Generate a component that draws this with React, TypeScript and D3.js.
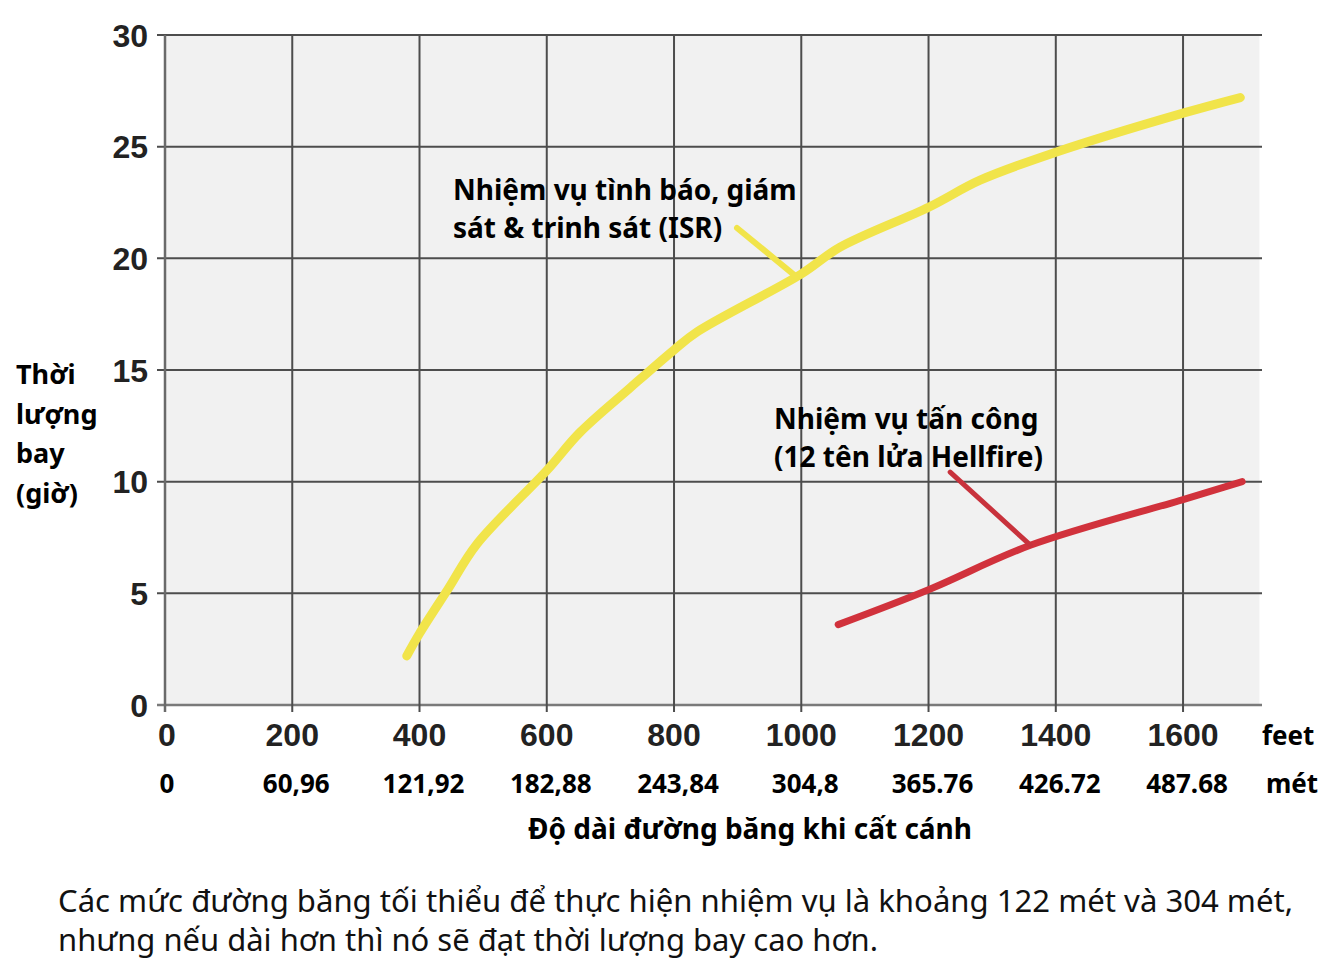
import React from "react";
import * as d3 from "d3";

const feetTicks = [0, 200, 400, 600, 800, 1000, 1200, 1400, 1600];
const meterLabels = ["0", "60,96", "121,92", "182,88", "243,84", "304,8", "365.76", "426.72", "487.68"];
const hourTicks = [0, 5, 10, 15, 20, 25, 30];

const isrFeet = [380, 400, 445, 490, 600, 652, 731, 800, 836, 1000, 1061, 1201, 1281, 1400, 1600, 1690];
const isrHours = [2.2, 3.2, 5.2, 7.2, 10.5, 12.2, 14.2, 15.9, 16.7, 19.3, 20.5, 22.3, 23.5, 24.75, 26.5, 27.2];

const strikeFeet = [1058, 1199, 1360, 1600, 1693];
const strikeHours = [3.6, 5.15, 7.15, 9.2, 10.0];

const isrLeader = [[899, 21.36], [993, 19.16]];
const strikeLeader = [[1234, 10.43], [1360, 7.16]];

const isrLabel = ["Nhiệm vụ tình báo, giám", "sát & trinh sát (ISR)"];
const strikeLabel = ["Nhiệm vụ tấn công", "(12 tên lửa Hellfire)"];
const yTitle = ["Thời", "lượng", "bay", "(giờ)"];
const xTitle = "Độ dài đường băng khi cất cánh";
const caption = [
  "Các mức đường băng tối thiểu để thực hiện nhiệm vụ là khoảng 122 mét và 304 mét,",
  "nhưng nếu dài hơn thì nó sẽ đạt thời lượng bay cao hơn.",
];
const captionWidths = [1235, 820];

const W = 1332;
const H = 974;
const left = 165;
const right = 1259.4;
const top = 35;
const bottom = 705;

export default function App() {
  const x = d3.scaleLinear().domain([0, 1720]).range([left, right]);
  const y = d3.scaleLinear().domain([0, 30]).range([bottom, top]);

  const line = d3
    .line<[number, number]>()
    .x((d) => x(d[0]))
    .y((d) => y(d[1]))
    .curve(d3.curveCatmullRom.alpha(0.5));
  const straight = d3
    .line<number[]>()
    .x((d) => x(d[0]))
    .y((d) => y(d[1]));

  const isrData = isrFeet.map((f, i) => [f, isrHours[i]] as [number, number]);
  const strikeData = strikeFeet.map((f, i) => [f, strikeHours[i]] as [number, number]);

  const gridColor = "#4d4d4d";
  const din = "'Noto Sans', 'DejaVu Sans', sans-serif";
  const arial = "'Liberation Sans', Arial, sans-serif";

  return (
    <svg
      width={W}
      height={H}
      viewBox={`0 0 ${W} ${H}`}
      style={{ position: "absolute", left: 0, top: 0, background: "#fff" }}
    >
      <rect x={0} y={0} width={W} height={H} fill="#ffffff" />
      <rect x={left} y={top} width={right - left} height={bottom - top} fill="#f1f1f1" />

      {hourTicks.map((t) => (
        <line
          key={"h" + t}
          x1={157}
          x2={1262}
          y1={y(t)}
          y2={y(t)}
          stroke={t === 0 ? "#7a7a7a" : gridColor}
          strokeWidth={t === 0 ? 2.5 : 2}
        />
      ))}
      {feetTicks.map((t) => (
        <line
          key={"v" + t}
          x1={x(t)}
          x2={x(t)}
          y1={top}
          y2={bottom + 7}
          stroke={t === 0 ? "#6a6a6a" : gridColor}
          strokeWidth={t === 0 ? 2.5 : 2}
        />
      ))}

      {hourTicks.map((t) => (
        <text
          key={"yl" + t}
          x={148}
          y={y(t)}
          dy="0.36em"
          textAnchor="end"
          fontFamily={arial}
          fontWeight={700}
          fontSize={32}
          fill="#222"
        >
          {t}
        </text>
      ))}

      {yTitle.map((s, i) => (
        <text
          key={"yt" + i}
          x={16}
          y={384 + i * 39.5}
          fontFamily={din}
          fontWeight={700}
          fontSize={27}
          fill="#000"
        >
          {s}
        </text>
      ))}

      {feetTicks.map((t) => (
        <text
          key={"xf" + t}
          x={x(t) + (t === 0 ? 2 : 0)}
          y={746}
          textAnchor="middle"
          fontFamily={arial}
          fontWeight={700}
          fontSize={32}
          fill="#222"
        >
          {t}
        </text>
      ))}
      <text x={1262} y={745} fontFamily={din} fontWeight={700} fontSize={26} fill="#000">
        feet
      </text>

      {meterLabels.map((m, i) => (
        <text
          key={"xm" + i}
          x={x(feetTicks[i]) + (i === 0 ? 2 : 4)}
          y={793}
          textAnchor="middle"
          fontFamily={din}
          fontWeight={700}
          fontSize={26}
          fill="#000"
        >
          {m}
        </text>
      ))}
      <text x={1266} y={793} fontFamily={din} fontWeight={700} fontSize={26} fill="#000">
        mét
      </text>

      <text x={750} y={839} textAnchor="middle" fontFamily={din} fontWeight={700} fontSize={28} fill="#000">
        {xTitle}
      </text>

      <path d={line(isrData) || ""} fill="none" stroke="#f1e44a" strokeWidth={9} strokeLinecap="round" strokeLinejoin="round" />
      <path d={straight(isrLeader) || ""} fill="none" stroke="#f1e44a" strokeWidth={6} strokeLinecap="round" />
      <path d={line(strikeData) || ""} fill="none" stroke="#d1323c" strokeWidth={7} strokeLinecap="round" strokeLinejoin="round" />
      <path d={straight(strikeLeader) || ""} fill="none" stroke="#c8323c" strokeWidth={5} strokeLinecap="round" />

      {isrLabel.map((s, i) => (
        <text key={"il" + i} x={453} y={200 + i * 38} fontFamily={din} fontWeight={700} fontSize={28} fill="#000">
          {s}
        </text>
      ))}
      {strikeLabel.map((s, i) => (
        <text key={"sl" + i} x={774} y={429 + i * 38} fontFamily={din} fontWeight={700} fontSize={28} fill="#000">
          {s}
        </text>
      ))}

      {caption.map((s, i) => (
        <text
          key={"c" + i}
          x={58}
          y={912 + i * 39}
          fontFamily={din}
          fontWeight={400}
          fontSize={30}
          textLength={captionWidths[i]}
          lengthAdjust="spacingAndGlyphs"
          fill="#111"
        >
          {s}
        </text>
      ))}
    </svg>
  );
}
